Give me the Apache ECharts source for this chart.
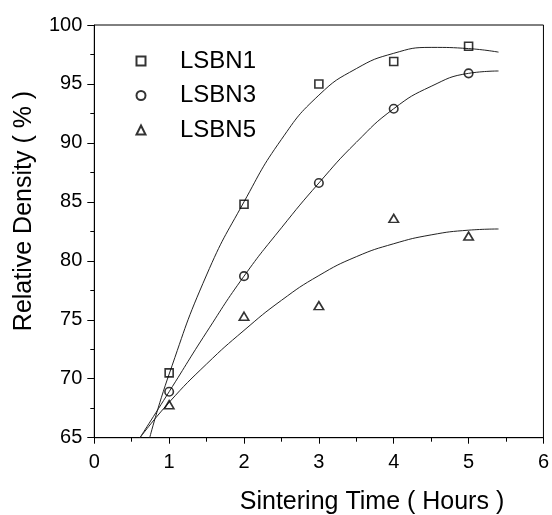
<!DOCTYPE html>
<html>
<head>
<meta charset="utf-8">
<script src="https://cdn.jsdelivr.net/npm/echarts@6/dist/echarts.min.js"></script>
<style>
html,body{margin:0;padding:0;background:#fff;}
#chart{width:552px;height:515px;}
</style>
</head>
<body>
<div id="chart"></div>
<script>
// Measured data
var times = [1, 2, 3, 4, 5];
var lsbn1 = [70.5, 84.8, 95.0, 96.9, 98.2];
var lsbn3 = [68.9, 78.7, 86.6, 92.9, 95.9];
var lsbn5 = [67.8, 75.3, 76.2, 83.6, 82.1];

// Fitted curves
var fit1X = [0.74, 1.0, 1.5, 2.0, 2.5, 3.0, 3.5, 4.0, 4.5, 5.0, 5.4];
var fit1Y = [65.0, 70.4, 78.8, 85.0, 90.3, 94.05, 96.3, 97.6, 98.1, 98.0, 97.7];
var fit3X = [0.61, 1.0, 1.5, 2.0, 2.5, 3.0, 3.5, 4.0, 4.5, 5.0, 5.4];
var fit3Y = [65.0, 68.9, 73.95, 78.7, 82.8, 86.6, 90.05, 92.9, 94.8, 95.9, 96.1];
var fit5X = [0.61, 1.0, 1.5, 2.0, 2.5, 3.0, 3.5, 4.0, 4.5, 5.0, 5.4];
var fit5Y = [65.0, 68.0, 71.25, 74.1, 76.65, 78.75, 80.35, 81.45, 82.2, 82.6, 82.7];

var names = ['LSBN1', 'LSBN3', 'LSBN5'];
var xTitle = 'Sintering Time ( Hours )';
var yTitle = 'Relative Density ( % )';

function pairs(xs, ys) { return xs.map(function (x, i) { return [x, ys[i]]; }); }

var FONT = '"Liberation Sans", Arial, sans-serif';
var chart = echarts.init(document.getElementById('chart'), null, {renderer: 'canvas'});

function scatter(name, ys, symbol, size) {
  return {
    name: name, type: 'scatter', data: pairs(times, ys), symbol: symbol, symbolSize: size,
    itemStyle: {color: 'rgba(255,255,255,0)', borderColor: '#000', borderWidth: 1.6},
    z: 5
  };
}
function fit(xs, ys) {
  return {
    type: 'line', data: pairs(xs, ys), smooth: 0.5, showSymbol: false, silent: true,
    lineStyle: {color: '#222', width: 1}, z: 3
  };
}

chart.setOption({
  animation: false,
  backgroundColor: '#fff',
  grid: {left: 94.3, right: 8.3, top: 25, bottom: 77.3, show: true, borderColor: '#000', borderWidth: 1, backgroundColor: 'transparent'},
  xAxis: {
    type: 'value', min: 0, max: 6, interval: 1,
    axisLine: {show: true, lineStyle: {color: '#000', width: 1}},
    axisTick: {show: true, inside: false, length: 6, lineStyle: {color: '#000'}},
    minorTick: {show: true, splitNumber: 2, length: 4, lineStyle: {color: '#000'}},
    splitLine: {show: false},
    axisLabel: {color: '#000', fontSize: 20, fontFamily: FONT, margin: 15}
  },
  yAxis: {
    type: 'value', min: 65, max: 100, interval: 5,
    axisLine: {show: true, lineStyle: {color: '#000', width: 1}},
    axisTick: {show: true, inside: false, length: 7, lineStyle: {color: '#000'}},
    minorTick: {show: true, splitNumber: 2, length: 4, lineStyle: {color: '#000'}},
    splitLine: {show: false},
    axisLabel: {color: '#000', fontSize: 20, fontFamily: FONT, margin: 12}
  },
  legend: {
    data: names, orient: 'vertical', left: 130.5, top: 44,
    itemWidth: 9, itemHeight: 9, itemGap: 10.5,
    textStyle: {color: '#000', fontSize: 24, fontFamily: FONT, padding: [0, 0, 0, 29.5]}
  },
  graphic: [
    {type: 'text', x: 372, y: 502, style: {text: xTitle, fill: '#000', font: '25px ' + FONT, textAlign: 'center', textVerticalAlign: 'middle'}},
    {type: 'text', x: 24, y: 211, rotation: Math.PI / 2, style: {text: yTitle, fill: '#000', font: '25px ' + FONT, textAlign: 'center', textVerticalAlign: 'middle'}}
  ],
  series: [
    fit(fit1X, fit1Y), fit(fit3X, fit3Y), fit(fit5X, fit5Y),
    scatter(names[0], lsbn1, 'rect', 8),
    scatter(names[1], lsbn3, 'circle', 8.5),
    scatter(names[2], lsbn5, 'triangle', [9.5, 8])
  ]
});
</script>
</body>
</html>
